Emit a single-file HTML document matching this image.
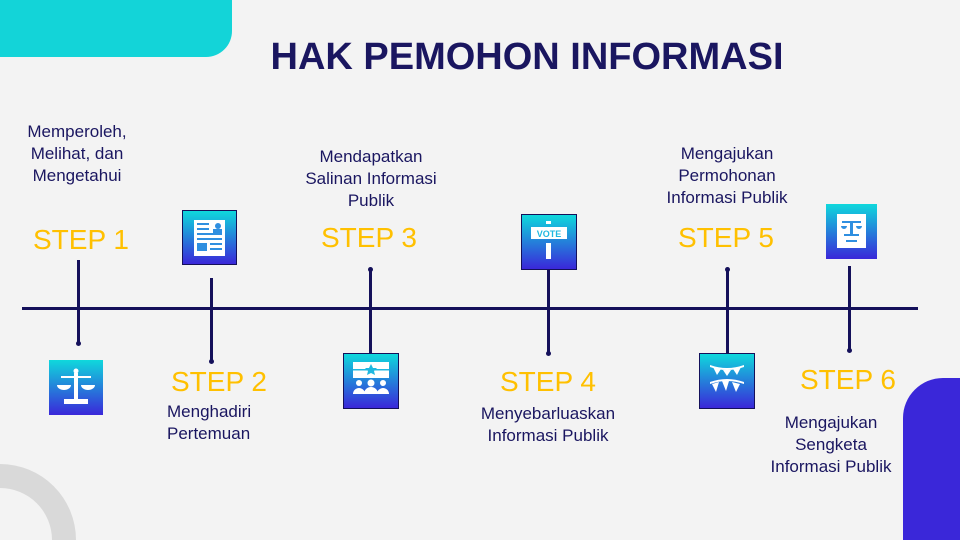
<!DOCTYPE html>
<html style="width:960px;height:540px;overflow:hidden"><head><meta charset="utf-8"><style>
*{margin:0;padding:0;box-sizing:border-box}
body{width:960px;height:540px;background:#f3f3f3;position:relative;overflow:hidden;font-family:"Liberation Sans",sans-serif;color:#1a1660}
.a{position:absolute}
.step{position:absolute;color:#ffc000;font-size:28px;width:160px;text-align:center;line-height:30px}
.t{position:absolute;font-size:17px;line-height:22px;text-align:center;width:200px;color:#1a1660}
.v{position:absolute;width:3px;background:#14105a}
.ic{position:absolute;background:linear-gradient(#0fd8dc,#3a27d9);border:1.5px solid #14105a}
.dot{position:absolute;width:5px;height:5px;border-radius:50%;background:#14105a}
</style></head><body>
<div class="a" style="left:0;top:0;width:232px;height:57px;background:#13d4d8;border-bottom-right-radius:26px"></div>
<div class="a" style="left:903px;top:378px;width:57px;height:162px;background:#3a27d9;border-top-left-radius:40px"></div>
<svg class="a" style="left:0;top:464px" width="76" height="76"><path d="M0 0A76 76 0 0 1 76 76H52A52 52 0 0 0 0 24Z" fill="#d9d9d9"/></svg>
<div class="a" style="left:94px;top:34px;width:866px;text-align:center;font-size:38px;font-weight:bold;color:#1a1660;line-height:46px;white-space:nowrap">HAK PEMOHON INFORMASI</div>
<div class="a" style="left:22px;top:307px;width:896px;height:3px;background:#14105a"></div>

<div class="v" style="left:77px;top:260px;height:84px"></div><div class="dot" style="left:76px;top:341px"></div>
<div class="v" style="left:210px;top:278px;height:84px"></div><div class="dot" style="left:209px;top:359px"></div>
<div class="v" style="left:369px;top:268px;height:86px"></div><div class="dot" style="left:368px;top:267px"></div>
<div class="v" style="left:547px;top:270px;height:84px"></div><div class="dot" style="left:546px;top:351px"></div>
<div class="v" style="left:726px;top:268px;height:86px"></div><div class="dot" style="left:725px;top:267px"></div>
<div class="v" style="left:848px;top:266px;height:85px"></div><div class="dot" style="left:847px;top:348px"></div>

<div class="ic" style="left:49px;top:360px;width:54px;height:55px;border:none">
<svg width="54" height="55"><g fill="#fff"><rect x="25" y="13" width="4" height="27"/><rect x="15" y="39" width="24" height="5"/><rect x="12" y="16" width="30" height="2"/><path d="M8 25h14a7 5 0 0 1-14 0zM32 25h14a7 5 0 0 1-14 0z"/><circle cx="27" cy="11" r="2.5"/></g></svg></div>
<div class="ic" style="left:182px;top:210px;width:55px;height:55px">
<svg width="52" height="52"><g fill="#fff"><rect x="11" y="9" width="31" height="36"/></g><g fill="#2f8fe0"><circle cx="35" cy="15" r="3"/><rect x="30" y="18" width="9" height="5"/><rect x="14" y="12" width="12" height="2"/><rect x="14" y="17" width="12" height="2"/><rect x="14" y="22" width="25" height="2"/><rect x="14" y="27" width="25" height="2"/><rect x="14" y="32" width="10" height="8"/><rect x="27" y="32" width="12" height="2"/><rect x="27" y="37" width="12" height="2"/></g></svg></div>
<div class="ic" style="left:343px;top:353px;width:56px;height:56px">
<svg width="53" height="53"><g fill="#fff"><rect x="9" y="8" width="36" height="16"/><circle cx="15" cy="29" r="3"/><circle cx="27" cy="29" r="3.5"/><circle cx="39" cy="29" r="3"/><path d="M9 40a6 6 0 0 1 12 0zM20 40a7 7 0 0 1 14 0zM33 40a6 6 0 0 1 12 0z"/></g><g fill="#1fb8e0"><rect x="9" y="15" width="36" height="1.5"/><polygon points="27,10 29,14 33,14 30,17 31,21 27,19 23,21 24,17 21,14 25,14"/></g></svg></div>
<div class="ic" style="left:521px;top:214px;width:56px;height:56px">
<svg width="53" height="53"><g fill="#fff"><rect x="24" y="6" width="5" height="3"/><rect x="9" y="12" width="36" height="12"/><rect x="24" y="28" width="5" height="16"/></g><text x="27" y="22" font-size="9" font-weight="bold" fill="#1fb8e0" text-anchor="middle" font-family="Liberation Sans">VOTE</text></svg></div>
<div class="ic" style="left:699px;top:353px;width:56px;height:56px">
<svg width="53" height="53"><g fill="#fff"><path d="M10 11q17 6 34 0v2q-17 6-34 0z"/><polygon points="13,13 21,15 17,21"/><polygon points="23,16 31,16 27,22"/><polygon points="33,15 41,13 37,21"/><path d="M10 28q17 -6 34 0v2q-17 -6-34 0z"/><polygon points="12,30 19,28 16,38"/><polygon points="22,27 29,27 26,37"/><polygon points="32,28 40,30 36,38"/></g></svg></div>
<div class="ic" style="left:826px;top:204px;width:51px;height:55px;border:none">
<svg width="51" height="55"><rect x="11" y="10" width="29" height="34" fill="#fff"/><g fill="#2f8fe0"><rect x="16" y="17" width="19" height="2"/><rect x="24" y="17" width="3" height="13"/><rect x="18" y="30" width="15" height="2"/><rect x="20" y="36" width="11" height="2"/><path d="M15 22h6a3 3 0 0 1-6 0zM30 22h6a3 3 0 0 1-6 0z"/></g></svg></div>

<div class="step" style="left:1px;top:225px">STEP 1</div>
<div class="step" style="left:139px;top:367px">STEP 2</div>
<div class="step" style="left:289px;top:223px">STEP 3</div>
<div class="step" style="left:468px;top:367px">STEP 4</div>
<div class="step" style="left:646px;top:223px">STEP 5</div>
<div class="step" style="left:768px;top:365px">STEP 6</div>

<div class="t" style="left:0;top:121px;width:154px">Memperoleh,<br>Melihat, dan<br>Mengetahui</div>
<div class="t" style="left:167px;top:401px;text-align:left">Menghadiri<br>Pertemuan</div>
<div class="t" style="left:271px;top:146px">Mendapatkan<br>Salinan Informasi<br>Publik</div>
<div class="t" style="left:448px;top:403px">Menyebarluaskan<br>Informasi Publik</div>
<div class="t" style="left:627px;top:143px">Mengajukan<br>Permohonan<br>Informasi Publik</div>
<div class="t" style="left:731px;top:412px">Mengajukan<br>Sengketa<br>Informasi Publik</div>
</body></html>
